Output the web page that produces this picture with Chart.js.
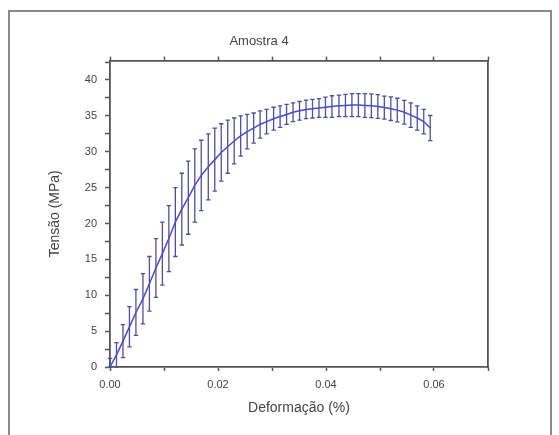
<!DOCTYPE html>
<html><head><meta charset="utf-8">
<script src="https://cdn.jsdelivr.net/npm/chart.js@4/dist/chart.umd.min.js"></script>
<style>html,body{margin:0;padding:0;background:#fff;}canvas{display:block;}</style>
</head><body>
<canvas id="c" width="559" height="435"></canvas>
<script>
const chartTitle = 'Amostra 4';
const xTitle = 'Deformação (%)';
const yTitle = 'Tensão (MPa)';
const strain = [0, 0.0012, 0.0024, 0.0036, 0.0048, 0.0061, 0.0073, 0.0085, 0.0097, 0.0109,
  0.0121, 0.0133, 0.0145, 0.0157, 0.0169, 0.0182, 0.0194, 0.0206, 0.0218, 0.0230,
  0.0242, 0.0254, 0.0266, 0.0278, 0.0290, 0.0303, 0.0315, 0.0327, 0.0339, 0.0351,
  0.0363, 0.0375, 0.0387, 0.0399, 0.0411, 0.0424, 0.0436, 0.0448, 0.0460, 0.0472,
  0.0484, 0.0496, 0.0508, 0.0520, 0.0532, 0.0545, 0.0557, 0.0569, 0.0581, 0.0593];
const stressMean = [0, 1.7, 3.6, 5.6, 7.6, 9.5, 11.6, 13.8, 15.8, 17.9,
  20.2, 22.0, 23.6, 25.3, 26.7, 27.9, 28.9, 29.9, 30.7, 31.5,
  32.2, 32.8, 33.3, 33.8, 34.2, 34.6, 34.9, 35.2, 35.5, 35.7,
  35.9, 36.0, 36.1, 36.2, 36.3, 36.4, 36.45, 36.5, 36.5, 36.45,
  36.4, 36.3, 36.15, 36.0, 35.8, 35.5, 35.1, 34.7, 34.2, 33.3];
const stressErr = [1.2, 1.7, 2.3, 2.8, 3.2, 3.5, 3.8, 4.1, 4.4, 4.6,
  4.8, 5.0, 5.1, 5.1, 4.9, 4.6, 4.4, 4.0, 3.7, 3.2,
  2.8, 2.4, 2.1, 1.9, 1.7, 1.6, 1.5, 1.4, 1.3, 1.3,
  1.3, 1.3, 1.3, 1.4, 1.5, 1.5, 1.55, 1.6, 1.6, 1.65,
  1.65, 1.65, 1.6, 1.65, 1.65, 1.65, 1.7, 1.7, 1.7, 1.75];
const xTickLabels = ['0.00', '0.02', '0.04', '0.06'];
const yTickLabels = ['0', '5', '10', '15', '20', '25', '30', '35', '40'];

const axisColor = '#555';
const textColor = '#444';
const FONT = 'Liberation Sans, Arial, sans-serif';

const points = strain.map((x, i) => ({x: x, y: stressMean[i]}));

const frame = {
  id: 'frame',
  beforeDraw(chart) {
    const ctx = chart.ctx;
    ctx.save();
    ctx.fillStyle = '#fff';
    ctx.fillRect(0, 0, chart.width, chart.height);
    ctx.strokeStyle = '#8a8a8a';
    ctx.lineWidth = 2;
    ctx.strokeRect(9, 11, 542, 440);
    ctx.restore();
  }
};

const errorBars = {
  id: 'errorBars',
  beforeDatasetsDraw(chart) {
    const ctx = chart.ctx, xs = chart.scales.x, ys = chart.scales.y;
    ctx.save();
    ctx.strokeStyle = '#4f4f9a';
    ctx.lineWidth = 1.3;
    strain.forEach((x, i) => {
      const px = xs.getPixelForValue(x);
      const top = ys.getPixelForValue(stressMean[i] + stressErr[i]);
      const bot = ys.getPixelForValue(Math.max(0, stressMean[i] - stressErr[i]));
      ctx.beginPath();
      ctx.moveTo(px, top); ctx.lineTo(px, bot);
      ctx.moveTo(px - 2.2, top); ctx.lineTo(px + 2.2, top);
      ctx.moveTo(px - 2.2, bot); ctx.lineTo(px + 2.2, bot);
      ctx.stroke();
    });
    ctx.restore();
  }
};

const isMajorX = v => Math.abs(Math.round(v * 100) % 2) === 0;
const isMajorY = v => Math.abs(v % 5) < 1e-6;

new Chart(document.getElementById('c'), {
  type: 'line',
  data: {
    datasets: [{
      data: points,
      borderColor: '#4b4bd2',
      borderWidth: 1.5,
      pointRadius: 0,
      tension: 0,
      fill: false
    }]
  },
  plugins: [frame, errorBars],
  options: {
    responsive: false,
    animation: false,
    layout: {padding: {left: 30, right: 71, top: 0, bottom: 0}},
    plugins: {
      legend: {display: false},
      tooltip: {enabled: false},
      title: {
        display: true, text: chartTitle, color: textColor,
        font: {family: FONT, size: 13, weight: 'normal'},
        padding: {top: 34, bottom: 7}
      }
    },
    scales: {
      x: {
        type: 'linear', position: 'bottom', min: 0, max: 0.07,
        border: {color: axisColor, width: 1.8},
        grid: {drawOnChartArea: false, drawTicks: true, tickLength: 4, color: axisColor, tickColor: axisColor, tickWidth: 1.5},
        ticks: {
          stepSize: 0.01, autoSkip: false, includeBounds: false, maxRotation: 0,
          color: textColor, font: {family: FONT, size: 11}, padding: 7,
          callback: (v) => {
            if (!isMajorX(v)) return '';
            const k = Math.round(v * 50);
            return xTickLabels[k] !== undefined ? xTickLabels[k] : '';
          }
        },
        title: {display: true, text: xTitle, color: textColor, font: {family: FONT, size: 14}, padding: {top: 0, bottom: 18}},
        afterFit: (s) => { s.height = 68; }
      },
      x2: {
        type: 'linear', position: 'top', axis: 'x', min: 0, max: 0.07,
        border: {color: axisColor, width: 1.8},
        grid: {drawOnChartArea: false, drawTicks: true, tickLength: 4, color: axisColor, tickColor: axisColor, tickWidth: 1.5},
        ticks: {display: false, stepSize: 0.01, autoSkip: false, includeBounds: false},
        afterFit: (s) => { s.height = 4; }
      },
      y: {
        type: 'linear', position: 'left', min: 0, max: 42.7,
        border: {color: axisColor, width: 1.8},
        grid: {drawOnChartArea: false, drawTicks: true, tickLength: 5, color: axisColor, tickColor: axisColor, tickWidth: 1.5},
        ticks: {
          stepSize: 2.5, autoSkip: false, includeBounds: false,
          color: textColor, font: {family: FONT, size: 11}, padding: 8,
          callback: (v) => {
            if (!isMajorY(v)) return '';
            const k = Math.round(v / 5);
            return yTickLabels[k] !== undefined ? yTickLabels[k] : '';
          }
        },
        title: {display: true, text: yTitle, color: textColor, font: {family: FONT, size: 14}, padding: {top: 17, bottom: 0}},
        afterFit: (s) => { s.width = 80; }
      },
      y2: {
        type: 'linear', position: 'right', axis: 'y', min: 0, max: 42.7,
        border: {color: axisColor, width: 1.8},
        grid: {drawOnChartArea: false, drawTicks: false},
        ticks: {display: false},
        afterFit: (s) => { s.width = 0; }
      }
    }
  }
});
</script>
</body></html>
